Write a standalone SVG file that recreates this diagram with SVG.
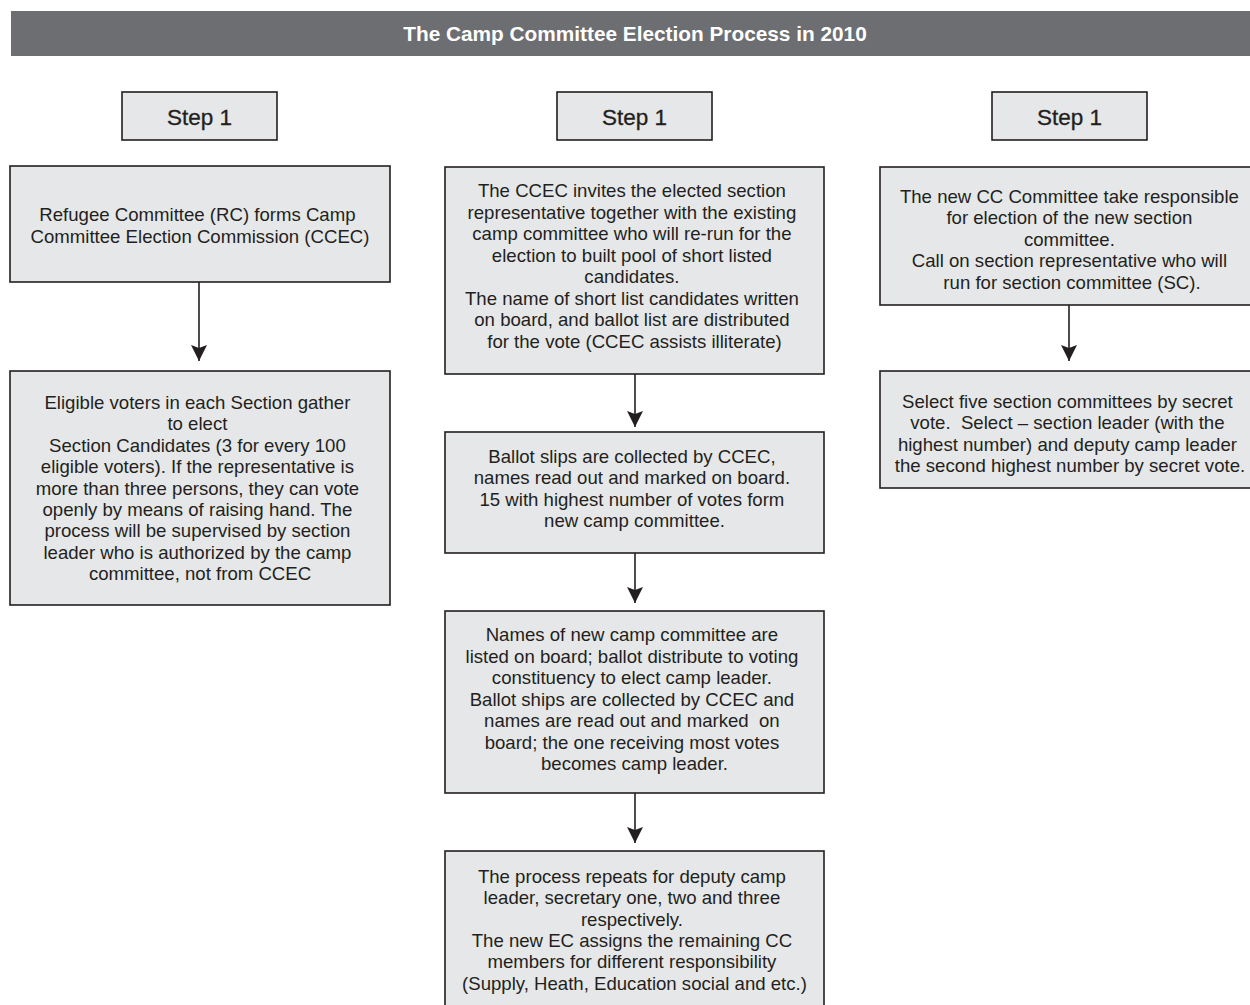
<svg xmlns="http://www.w3.org/2000/svg" width="1250" height="1005" viewBox="0 0 1250 1005">
  <style>
    .box { fill: #e6e7e8; stroke: #231f20; stroke-width: 1.6; }
    .txt { font-family: "Liberation Sans", Arial, Helvetica, sans-serif; font-size: 18.6px; fill: #231f20; text-anchor: middle; }
    .step { font-family: "Liberation Sans", Arial, Helvetica, sans-serif; font-size: 22.5px; fill: #231f20; stroke: #231f20; stroke-width: 0.3; text-anchor: middle; }
    .title { font-family: "Liberation Sans", Arial, Helvetica, sans-serif; font-size: 20.8px; font-weight: bold; fill: #ffffff; text-anchor: middle; }
    .conn { stroke: #231f20; stroke-width: 1.6; fill: none; }
  </style>
  <defs>
    <marker id="arrow" viewBox="0 0 16 16" refX="16" refY="8" markerWidth="16" markerHeight="16" markerUnits="userSpaceOnUse" orient="auto">
      <path d="M0,0 L16,8 L0,16 L3,8 Z" fill="#231f20"/>
    </marker>
  </defs>
  <rect width="1250" height="1005" fill="#ffffff"/>

  <!-- title banner -->
  <g id="header">
    <rect x="11" y="11" width="1239" height="45" fill="#6d6e71"/>
    <text class="title" x="635" y="41">The Camp Committee Election Process in 2010</text>
  </g>

  <!-- step labels -->
  <g id="step-left">
    <rect class="box" x="122" y="92" width="155" height="48"/>
    <text class="step" x="199.5" y="125">Step 1</text>
  </g>
  <g id="step-middle">
    <rect class="box" x="557" y="92" width="155" height="48"/>
    <text class="step" x="634.5" y="125">Step 1</text>
  </g>
  <g id="step-right">
    <rect class="box" x="992" y="92" width="155" height="48"/>
    <text class="step" x="1069.5" y="125">Step 1</text>
  </g>

  <!-- left column -->
  <g id="rc-forms-ccec">
    <rect class="box" x="10" y="166" width="380" height="116"/>
    <text class="txt" x="200" y="221">
      <tspan x="200">Refugee Committee (RC) forms Camp</tspan>
      <tspan x="200" dy="21.5">Committee Election Commission (CCEC)</tspan>
    </text>
  </g>
  <g id="section-candidates">
    <rect class="box" x="10" y="371" width="380" height="234"/>
    <text class="txt" x="200" y="409">
      <tspan x="200">Eligible voters in each Section gather</tspan>
      <tspan x="200" dy="21.4">to elect</tspan>
      <tspan x="200" dy="21.4">Section Candidates (3 for every 100</tspan>
      <tspan x="200" dy="21.4">eligible voters). If the representative is</tspan>
      <tspan x="200" dy="21.4">more than three persons, they can vote</tspan>
      <tspan x="200" dy="21.4">openly by means of raising hand. The</tspan>
      <tspan x="200" dy="21.4">process will be supervised by section</tspan>
      <tspan x="200" dy="21.4">leader who is authorized by the camp</tspan>
      <tspan x="200" dy="21.4">committee, not from CCEC</tspan>
    </text>
  </g>

  <!-- middle column -->
  <g id="short-list">
    <rect class="box" x="445" y="167" width="379" height="207"/>
    <text class="txt" x="634.5" y="197">
      <tspan x="634.5">The CCEC invites the elected section</tspan>
      <tspan x="634.5" dy="21.5">representative together with the existing</tspan>
      <tspan x="634.5" dy="21.5">camp committee who will re-run for the</tspan>
      <tspan x="634.5" dy="21.5">election to built pool of short listed</tspan>
      <tspan x="634.5" dy="21.5">candidates.</tspan>
      <tspan x="634.5" dy="21.5">The name of short list candidates written</tspan>
      <tspan x="634.5" dy="21.5">on board, and ballot list are distributed</tspan>
      <tspan x="634.5" dy="21.5">for the vote (CCEC assists illiterate)</tspan>
    </text>
  </g>
  <g id="ballot-count">
    <rect class="box" x="445" y="432" width="379" height="121"/>
    <text class="txt" x="634.5" y="463">
      <tspan x="634.5">Ballot slips are collected by CCEC,</tspan>
      <tspan x="634.5" dy="21.3">names read out and marked on board.</tspan>
      <tspan x="634.5" dy="21.3">15 with highest number of votes form</tspan>
      <tspan x="634.5" dy="21.3">new camp committee.</tspan>
    </text>
  </g>
  <g id="camp-leader">
    <rect class="box" x="445" y="611" width="379" height="182"/>
    <text class="txt" x="634.5" y="641">
      <tspan x="634.5">Names of new camp committee are</tspan>
      <tspan x="634.5" dy="21.5">listed on board; ballot distribute to voting</tspan>
      <tspan x="634.5" dy="21.5">constituency to elect camp leader.</tspan>
      <tspan x="634.5" dy="21.5">Ballot ships are collected by CCEC and</tspan>
      <tspan x="634.5" dy="21.5">names are read out and marked&#160; on</tspan>
      <tspan x="634.5" dy="21.5">board; the one receiving most votes</tspan>
      <tspan x="634.5" dy="21.5">becomes camp leader.</tspan>
    </text>
  </g>
  <g id="other-posts">
    <rect class="box" x="445" y="851" width="379" height="170"/>
    <text class="txt" x="634.5" y="883">
      <tspan x="634.5">The process repeats for deputy camp</tspan>
      <tspan x="634.5" dy="21.3">leader, secretary one, two and three</tspan>
      <tspan x="634.5" dy="21.3">respectively.</tspan>
      <tspan x="634.5" dy="21.3">The new EC assigns the remaining CC</tspan>
      <tspan x="634.5" dy="21.3">members for different responsibility</tspan>
      <tspan x="634.5" dy="21.3">(Supply, Heath, Education social and etc.)</tspan>
    </text>
  </g>

  <!-- right column -->
  <g id="section-committee-call">
    <rect class="box" x="880" y="167" width="380" height="138"/>
    <text class="txt" x="1072" y="203">
      <tspan x="1072">The new CC Committee take responsible</tspan>
      <tspan x="1072" dy="21.4">for election of the new section</tspan>
      <tspan x="1072" dy="21.4">committee.</tspan>
      <tspan x="1072" dy="21.4">Call on section representative who will</tspan>
      <tspan x="1072" dy="21.4">run for section committee (SC).</tspan>
    </text>
  </g>
  <g id="section-committee-vote">
    <rect class="box" x="880" y="371" width="380" height="117"/>
    <text class="txt" x="1070" y="408">
      <tspan x="1070">Select five section committees by secret</tspan>
      <tspan x="1070" dy="21.3">vote.&#160; Select – section leader (with the</tspan>
      <tspan x="1070" dy="21.3">highest number) and deputy camp leader</tspan>
      <tspan x="1070" dy="21.3">the second highest number by secret vote.</tspan>
    </text>
  </g>

  <!-- connectors -->
  <g id="connectors">
    <line class="conn" x1="199" y1="282" x2="199" y2="361" marker-end="url(#arrow)"/>
    <line class="conn" x1="635" y1="374" x2="635" y2="427" marker-end="url(#arrow)"/>
    <line class="conn" x1="635" y1="553" x2="635" y2="603" marker-end="url(#arrow)"/>
    <line class="conn" x1="635" y1="793" x2="635" y2="843" marker-end="url(#arrow)"/>
    <line class="conn" x1="1069" y1="305" x2="1069" y2="361" marker-end="url(#arrow)"/>
  </g>
</svg>
